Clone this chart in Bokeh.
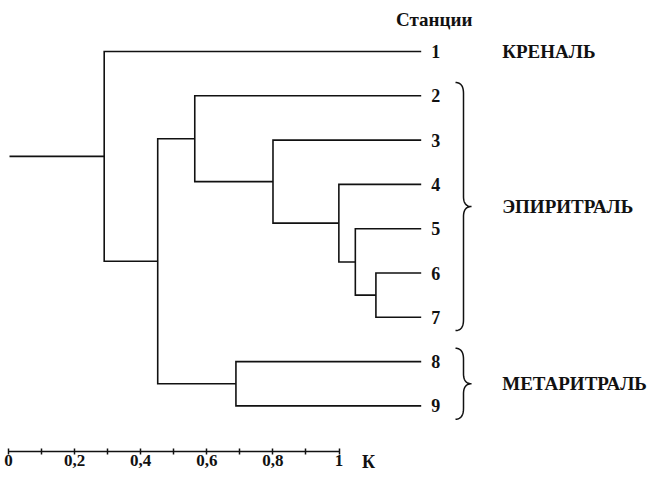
import numpy as np
from bokeh.plotting import figure
from bokeh.models import Range1d, LinearAxis, FixedTicker, CustomJSTickFormatter
from bokeh.core.properties import value
from bokeh.embed import file_html
from bokeh.resources import INLINE

# ---- data ----
stations = ["1", "2", "3", "4", "5", "6", "7", "8", "9"]
# agglomeration steps: node ids 1..9 are stations, new nodes get ids 10, 11, ...
merge_a = [6, 5, 4, 3, 2, 8, 14, 1]
merge_b = [7, 10, 11, 12, 13, 9, 15, 16]
merge_k = [0.89, 0.84, 0.80, 0.64, 0.45, 0.55, 0.36, 0.23]
leaf_k = 1.0
root_k = 0.0
zone_names = ["КРЕНАЛЬ", "ЭПИРИТРАЛЬ", "МЕТАРИТРАЛЬ"]
zone_members = [[1], [2, 3, 4, 5, 6, 7], [8, 9]]
zone_brace = [False, True, True]
k_ticks = [0, 0.2, 0.4, 0.6, 0.8, 1.0]
k_minor = [0.1, 0.3, 0.5, 0.7, 0.9]
header = "Станции"
axis_name = "К"

# ---- layout constants ----
W, H = 650, 479
PX_D = 411.7   # px per unit of the dendrogram scale
PX_K = 330.5   # px per unit of the drawn K axis
ROW = 44.3     # px per station row
Y_TOP = 1 - 51 / ROW
SERIF = value("Liberation Serif")
INK = "#111111"

p = figure(frame_width=W, frame_height=H,
           x_range=Range1d(-9 / PX_D, -9 / PX_D + W / PX_D),
           y_range=Range1d(Y_TOP + H / ROW, Y_TOP),
           output_backend="svg", toolbar_location=None,
           x_axis_location=None, y_axis_location=None, min_border=0)
p.min_border_left = p.min_border_right = p.min_border_top = p.min_border_bottom = 0
p.outline_line_color = None
p.background_fill_color = "white"
p.border_fill_color = "white"
for g in p.grid:
    g.visible = False
p.extra_x_ranges = {"K": Range1d(-8 / PX_K, -8 / PX_K + W / PX_K)}

# ---- dendrogram geometry ----
pos = {i + 1: (leaf_k, float(i + 1)) for i in range(len(stations))}
xs, ys = [], []
node = len(stations) + 1
for a, b, k in zip(merge_a, merge_b, merge_k):
    xa, ya = pos[a]
    xb, yb = pos[b]
    xs.append([xa, k, k, xb])
    ys.append([ya, ya, yb, yb])
    pos[node] = (k, (ya + yb) / 2)
    node += 1
root = node - 1
xs.append([root_k, pos[root][0]])
ys.append([pos[root][1], pos[root][1]])
p.multi_line(xs, ys, line_color=INK, line_width=1.6, line_join="miter", line_cap="butt")

# ---- leaf labels & header ----
p.text(x=[leaf_k] * len(stations), y=[pos[i + 1][1] for i in range(len(stations))],
       text=stations, x_offset=10, text_align="left", text_baseline="middle",
       text_font=SERIF, text_font_style="bold", text_font_size="18px", text_color=INK)
p.text(x=[leaf_k], y=[1 - 32 / ROW], text=[header], x_offset=13, text_align="center",
       text_baseline="middle", text_font=SERIF, text_font_style="bold",
       text_font_size="19px", text_color=INK)

# ---- zones with braces ----
def qbez(p0, c, p1, n=16):
    t = np.linspace(0, 1, n)
    x = (1 - t) ** 2 * p0[0] + 2 * (1 - t) * t * c[0] + t ** 2 * p1[0]
    y = (1 - t) ** 2 * p0[1] + 2 * (1 - t) * t * c[1] + t ** 2 * p1[1]
    return list(x), list(y)

bx0 = leaf_k + 42.3 / PX_D
hw, hh = 8 / PX_D, 11 / ROW
cw, ch = 8 / PX_D, 10 / ROW
for name, mem, br in zip(zone_names, zone_members, zone_brace):
    ym = float(np.mean([pos[m][1] for m in mem]))
    p.text(x=[leaf_k], y=[ym], text=[name], x_offset=81, text_align="left",
           text_baseline="middle", text_font=SERIF, text_font_style="bold",
           text_font_size="19px", text_color=INK)
    if br:
        yt = pos[mem[0]][1] - 0.3
        yb = pos[mem[-1]][1] + 0.3
        px, py = [], []
        for seg in [((bx0 - hw, yt), (bx0, yt), (bx0, yt + hh)),
                    ((bx0, ym - ch), (bx0, ym), (bx0 + cw, ym)),
                    ((bx0 + cw, ym), (bx0, ym), (bx0, ym + ch)),
                    ((bx0, yb - hh), (bx0, yb), (bx0 - hw, yb))]:
            sx, sy = qbez(*seg)
            px += sx
            py += sy
        p.line(px, py, line_color=INK, line_width=1.5)

# ---- K axis (drawn inside the frame at a fixed row position) ----
axis_row = 1 + 400 / ROW
ax = LinearAxis(x_range_name="K", fixed_location=axis_row,
                ticker=FixedTicker(ticks=k_ticks, minor_ticks=k_minor),
                formatter=CustomJSTickFormatter(code="""
                    if (Math.abs(tick) < 1e-9) return "0";
                    if (Math.abs(tick - 1) < 1e-9) return "1";
                    return tick.toFixed(1).replace(".", ",");
                """))
ax.bounds = (0, 1)
ax.axis_line_color = INK
ax.axis_line_width = 1.5
ax.major_tick_line_color = INK
ax.major_tick_line_width = 1.5
ax.minor_tick_line_color = INK
ax.minor_tick_line_width = 1.5
ax.major_tick_in = 3
ax.major_tick_out = 3
ax.minor_tick_in = 3
ax.minor_tick_out = 3
ax.major_label_standoff = 0
ax.major_label_text_font = "Liberation Serif"
ax.major_label_text_font_style = "bold"
ax.major_label_text_font_size = "17px"
ax.major_label_text_color = INK
p.add_layout(ax, "below")

p.text(x=[1.0], y=[axis_row + 10 / ROW], text=[axis_name], x_range_name="K",
       x_offset=23, text_align="left", text_baseline="middle",
       text_font=SERIF, text_font_style="bold", text_font_size="18px", text_color=INK)

open("out.html", "w").write(file_html(p, INLINE))
